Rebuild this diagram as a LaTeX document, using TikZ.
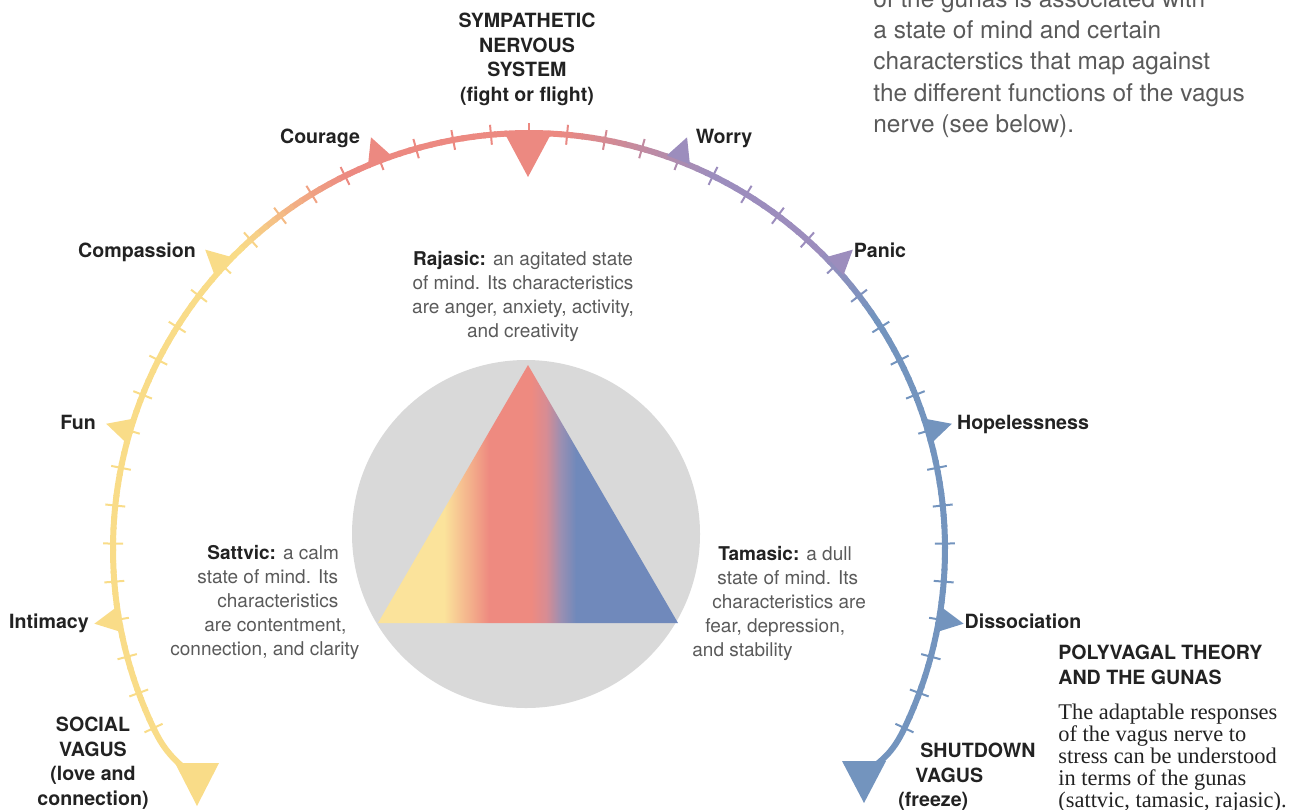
\documentclass[tikz,border=0pt]{standalone}
\usepackage{fontspec}
\setmainfont{TeX Gyre Heros}
\newfontfamily\bookfont{Liberation Serif}
\usetikzlibrary{positioning, calc}

\definecolor{sattvayel}{HTML}{F9DC88}
\definecolor{rajasred}{HTML}{EC8981}
\definecolor{worrypurp}{HTML}{9C8DBD}
\definecolor{tamasblue}{HTML}{7394BE}
\definecolor{trisat}{HTML}{FBE39B}
\definecolor{trira}{HTML}{EE8A80}
\definecolor{trirose}{HTML}{D88C93}
\definecolor{trililac}{HTML}{9A8FB2}
\definecolor{trita}{HTML}{7089BB}
\definecolor{discgray}{HTML}{D9D9D9}
\definecolor{bodygray}{HTML}{5A5A5A}
\definecolor{inkblack}{HTML}{222222}

\pgfdeclarehorizontalshading{gunashade}{100bp}{color(0bp)=(trisat); color(36bp)=(trisat); color(43.5bp)=(trira); color(50.5bp)=(trira); color(53bp)=(trirose); color(55.5bp)=(trililac); color(58bp)=(trita); color(100bp)=(trita)}

% colour of the nerve at a given angle -> nc
\newcommand{\setnervecolour}[1]{%
  \pgfmathsetmacro{\nv}{#1}%
  \ifdim\nv pt>134pt \colorlet{nc}{sattvayel}\else
  \ifdim\nv pt>116pt \pgfmathsetmacro{\pc}{(\nv-116)/18*100}\colorlet{nc}{sattvayel!\pc!rajasred}\else
  \ifdim\nv pt>86pt \colorlet{nc}{rajasred}\else
  \ifdim\nv pt>64pt \pgfmathsetmacro{\pc}{(\nv-64)/22*100}\colorlet{nc}{rajasred!\pc!worrypurp}\else
  \ifdim\nv pt>46pt \colorlet{nc}{worrypurp}\else
  \ifdim\nv pt>34pt \pgfmathsetmacro{\pc}{(\nv-34)/12*100}\colorlet{nc}{worrypurp!\pc!tamasblue}\else
  \colorlet{nc}{tamasblue}\fi\fi\fi\fi\fi\fi}

% small triangle sitting on the arc
\newcommand{\flagmark}[2]{%
  \fill[#2] ($(c)+(#1-1.7:417)$) -- ($(c)+(#1:441)$) -- ($(c)+(#1+1.7:417)$) -- cycle;}

\tikzstyle{nerve} = [line width=3pt]
\tikzstyle{nervetick} = [line width=1pt]
\tikzstyle{statelabel} = [font=\bfseries\fontsize{9.8}{12.25}\selectfont, text=inkblack, inner sep=0pt]
\tikzstyle{gunatext} = [font=\fontsize{9.5}{12}\selectfont, text=bodygray, inner sep=0pt]

\begin{document}
\begin{tikzpicture}[x=0.5pt, y=0.5pt]
  \useasboundingbox (0,0) rectangle (1293,-809);
  \coordinate (c) at (529,-549);

  % centre disc and gunas triangle
  \fill[discgray] (526,-534) circle[radius=174];
  \shade[shading=gunashade] (528,-365) -- (678,-623) -- (378,-623) -- cycle;

  % nerve arc, piece by piece
  \foreach \i in {0,...,153}{
    \pgfmathsetmacro{\segA}{-25.5+1.5*\i}
    \pgfmathsetmacro{\segB}{\segA+1.8}
    \setnervecolour{\segA+0.9}
    \draw[nerve, nc] ($(c)+(\segA:416)$) arc[start angle=\segA, end angle=\segB, radius=416];
  }
  \draw[nerve, sattvayel] ($(c)+(205.5:416)$) to[out=-64.5, in=139] (184,-768);
  \draw[nerve, tamasblue] ($(c)+(-25.5:416)$) to[out=-115.5, in=37] (872,-768);

  % ticks
  \foreach \k in {-22,...,22}{
    \pgfmathsetmacro{\tang}{90+5.25*\k}
    \setnervecolour{\tang}
    \draw[nervetick, nc] ($(c)+(\tang:406)$) -- ($(c)+(\tang:426)$);
  }

  % markers
  \foreach \m/\mc in {111/rajasred, 137.25/sattvayel, 163.5/sattvayel, 189.75/sattvayel,
                      69/worrypurp, 42.75/worrypurp, 16.5/tamasblue, -9.75/tamasblue}
    \flagmark{\m}{\mc};

  \fill[rajasred] (505,-134) -- (551,-134) -- (528,-177) -- cycle;
  \fill[sattvayel] (175,-763) -- (219,-763) -- (197,-806) -- cycle;
  \fill[tamasblue] (842,-761) -- (886,-761) -- (864,-803) -- cycle;

  % labels on the arc
  \node[statelabel, anchor=base] (courage) at (320,-143) {Courage};
  \node[statelabel, anchor=base] (compassion) at (137,-257) {Compassion};
  \node[statelabel, anchor=base] (fun) at (78,-429) {Fun};
  \node[statelabel, anchor=base] (intimacy) at (49,-628) {Intimacy};
  \node[statelabel, anchor=base] (worry) at (724,-143) {Worry};
  \node[statelabel, anchor=base] (panic) at (880,-257) {Panic};
  \node[statelabel, anchor=base] (hopeless) at (1023,-429) {Hopelessness};
  \node[statelabel, anchor=base] (dissoc) at (1023,-628) {Dissociation};

  \node[statelabel, align=center, anchor=north] (sympathetic) at (527,-13)
    {SYMPATHETIC\\NERVOUS\\SYSTEM\\(fight or flight)};
  \node[statelabel, align=center, anchor=north] (social) at (93,-717)
    {SOCIAL\\VAGUS\\(love and\\connection)};
  \node[statelabel, align=left, anchor=north west] (shutdown) at (898,-743)
    {\hspace*{11pt}SHUTDOWN\\\hspace*{8.5pt}VAGUS\\(freeze)};

  % gunas
  \node[gunatext, align=center, anchor=north] (rajasic) at (523,-251)
    {\textbf{\color{inkblack}Rajasic:} an agitated state\\of mind. Its characteristics\\are anger, anxiety, activity,\\and creativity};
  \node[gunatext, align=left, anchor=north west] (sattvic) at (170,-545)
    {\hspace*{18.5pt}\textbf{\color{inkblack}Sattvic:} a calm\\\hspace*{13.5pt}state of mind. Its\\\hspace*{23.5pt}characteristics\\\hspace*{17pt}are contentment,\\connection, and clarity};
  \node[gunatext, align=left, anchor=north west] (tamasic) at (692,-546)
    {\hspace*{13pt}\textbf{\color{inkblack}Tamasic:} a dull\\\hspace*{12.5pt}state of mind. Its\\\hspace*{10pt}characteristics are\\\hspace*{6.5pt}fear, depression,\\and stability};

  % intro and caption
  \node[font=\fontsize{12.2}{15.65}\selectfont, text=bodygray, inner sep=0pt, align=left, anchor=north west] (intro) at (873,11)
    {of the gunas is associated with\\a state of mind and certain\\characterstics that map against\\the different functions of the vagus\\nerve (see below).};
  \node[statelabel, align=left, anchor=north west] (polyhead) at (1058,-645)
    {POLYVAGAL THEORY\\AND THE GUNAS};
  \node[font=\bookfont\fontsize{11.2}{11}\selectfont, text=inkblack, inner sep=0pt, align=left,
        below=9pt of polyhead.south west, anchor=north west] (polybody)
    {The adaptable responses\\of the vagus nerve to\\stress can be understood\\in terms of the gunas\\(sattvic, tamasic, rajasic).};
\end{tikzpicture}
\end{document}
